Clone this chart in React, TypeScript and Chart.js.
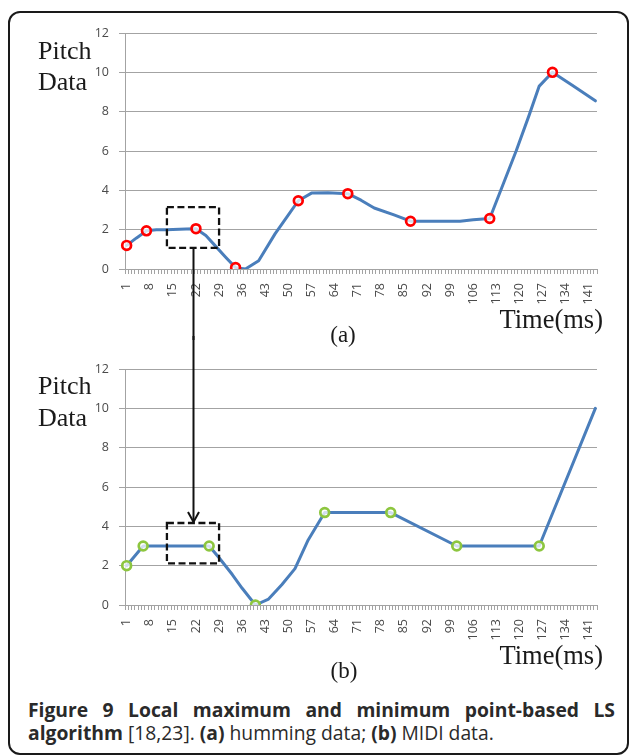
import React, { useEffect, useRef } from "react";
import { Chart, registerables } from "chart.js";

Chart.register(...registerables);

// ---------- data ----------
const timeCategories: number[] = Array.from({ length: 143 }, (_, i) => i + 1);
const labelEvery = 7;
const yMin = 0;
const yMax = 12;
const yStep = 2;

// (a) humming data
const hummingTimes = [1, 4, 7, 10, 13, 19, 22, 25, 28, 31, 34, 37, 41, 46, 50, 53, 57, 62, 68, 72, 76, 82, 87, 95, 102, 106, 111, 115, 119, 123, 126, 130, 136, 143];
const hummingPitch = [1.2, 1.58, 1.94, 1.99, 2.0, 2.04, 2.05, 1.7, 1.15, 0.6, 0.07, 0.0, 0.42, 1.8, 2.75, 3.47, 3.86, 3.88, 3.83, 3.5, 3.1, 2.75, 2.43, 2.43, 2.43, 2.5, 2.57, 4.28, 6.0, 7.85, 9.3, 10.0, 9.34, 8.55];
const hummingExtrema = [1, 7, 22, 34, 53, 68, 87, 111, 130];

// (b) MIDI data
const midiTimes = [1, 6, 26, 29, 33, 36, 40, 44, 48, 52, 56, 61, 81, 101, 126, 143];
const midiPitch = [2.0, 3.0, 3.0, 2.4, 1.55, 0.85, 0.0, 0.3, 1.03, 1.85, 3.31, 4.7, 4.7, 3.0, 3.0, 10.0];
const midiExtrema = [1, 6, 26, 40, 61, 81, 101, 126];

// highlighted region (time range, pitch range)
const boxTimesA = [13.2, 29.0];
const boxPitchA = [1.07, 3.15];
const boxTimesB = [13.2, 29.0];
const boxPitchB = [2.12, 4.17];

const TICK_FONT = "'Open Sans', sans-serif";
const SERIF = "'Liberation Serif', 'Times New Roman', serif";
const GRID = "#a3a3a3";
const TICK_COLOR = "#4a4a4a";
const LINE_BLUE = "#4A7EBB";

const annotPlugin = {
  id: "annot",
  afterDatasetsDraw(chart: any, _args: any, opts: any) {
    const { ctx } = chart;
    const xs = chart.scales.x;
    const ys = chart.scales.y;
    const xl = xs.getPixelForValue(opts.times[0] - 1);
    const xr = xs.getPixelForValue(opts.times[1] - 1);
    const yt = ys.getPixelForValue(opts.pitch[1]);
    const yb = ys.getPixelForValue(opts.pitch[0]);
    ctx.save();
    ctx.strokeStyle = "#111";
    ctx.lineWidth = 2.3;
    ctx.setLineDash([7, 3.5]);
    ctx.strokeRect(xl, yt, xr - xl, yb - yt);
    ctx.setLineDash([]);
    const xc = Math.round((xl + xr) / 2) + 0.5;
    ctx.lineWidth = 2;
    ctx.beginPath();
    if (opts.arrow === "start") {
      ctx.moveTo(xc, yb + 1);
      ctx.lineTo(xc, chart.height + 2);
      ctx.stroke();
    } else {
      ctx.moveTo(xc, -2);
      ctx.lineTo(xc, yt - 1);
      ctx.stroke();
      ctx.beginPath();
      ctx.moveTo(xc - 5.5, yt - 11);
      ctx.lineTo(xc, yt - 1);
      ctx.lineTo(xc + 5.5, yt - 11);
      ctx.stroke();
    }
    ctx.restore();
  },
};

function buildConfig(times: number[], values: number[], extrema: number[], markerColor: string, boxTimes: number[], boxPitch: number[], arrow: string): any {
  const lineData = times.map((t, i) => ({ x: t, y: values[i] }));
  const markerData = extrema.map((t) => ({ x: t, y: values[times.indexOf(t)] }));
  return {
    type: "line",
    data: {
      labels: timeCategories,
      datasets: [
        {
          data: markerData,
          showLine: false,
          order: 0,
          pointRadius: 4.4,
          pointBorderWidth: 2.7,
          pointBorderColor: markerColor,
          pointBackgroundColor: "rgba(255,255,255,0.75)",
        },
        {
          data: lineData,
          order: 1,
          borderColor: LINE_BLUE,
          borderWidth: 3,
          pointRadius: 0,
          tension: 0,
          borderJoinStyle: "round",
          borderCapStyle: "round",
          fill: false,
        },
      ],
    },
    options: {
      animation: false,
      responsive: false,
      devicePixelRatio: 1,
      events: [],
      layout: { padding: { left: 0, right: 32, top: 33, bottom: 0 } },
      plugins: {
        legend: { display: false },
        tooltip: { enabled: false },
        annot: { times: boxTimes, pitch: boxPitch, arrow },
      },
      scales: {
        x: {
          type: "category",
          offset: true,
          grid: {
            display: true,
            drawOnChartArea: false,
            drawTicks: true,
            tickLength: 5,
            color: GRID,
            offset: true,
            lineWidth: 1,
          },
          border: { display: true, color: GRID, width: 1 },
          ticks: {
            autoSkip: false,
            maxRotation: 90,
            minRotation: 90,
            padding: 9,
            color: TICK_COLOR,
            font: { family: TICK_FONT, size: 12.5 },
            callback: (_v: any, i: number) => (i % labelEvery === 0 ? String(timeCategories[i]) : ""),
          },
          afterFit: (s: any) => {
            s.height = 71;
          },
        },
        y: {
          min: yMin,
          max: yMax,
          grid: { color: GRID, tickLength: 6, lineWidth: 1 },
          border: { display: true, color: GRID, width: 1 },
          ticks: {
            stepSize: yStep,
            padding: 10,
            color: TICK_COLOR,
            font: { family: TICK_FONT, size: 12.5 },
          },
          afterFit: (s: any) => {
            s.width = 125;
          },
        },
      },
    },
    plugins: [annotPlugin],
  };
}

function LineChart(props: { top: number; cfg: () => any }) {
  const ref = useRef<HTMLCanvasElement | null>(null);
  useEffect(() => {
    if (!ref.current) return;
    const chart = new Chart(ref.current, props.cfg());
    return () => chart.destroy();
  }, []);
  return (
    <canvas
      ref={ref}
      width={629}
      height={340}
      style={{ position: "absolute", left: 0, top: props.top, width: 629, height: 340 }}
    />
  );
}

function SerifText(props: { left?: number; centerX?: number; right?: number; baseline: number; size: number; text: string }) {
  const { size } = props;
  const top = props.baseline - size * 0.8375;
  const style: any = {
    position: "absolute",
    top,
    fontFamily: SERIF,
    fontSize: size,
    lineHeight: `${size}px`,
    color: "#1a1a1a",
    whiteSpace: "nowrap",
  };
  if (props.centerX !== undefined) {
    style.left = props.centerX - 100;
    style.width = 200;
    style.textAlign = "center";
  } else if (props.right !== undefined) {
    style.right = 629 - props.right;
    style.textAlign = "right";
  } else {
    style.left = props.left;
  }
  return <div style={style}>{props.text}</div>;
}

export default function App() {
  useEffect(() => {
    document.body.style.margin = "0";
    document.body.style.background = "#ffffff";
  }, []);
  const capSize = 19.3;
  const capTop = (baseline: number) => baseline - capSize * 0.888;
  return (
    <div style={{ position: "absolute", left: 0, top: 0, width: 629, height: 755, background: "#fff", overflow: "hidden" }}>
      <div
        style={{
          position: "absolute",
          left: 8,
          top: 11,
          width: 621,
          height: 744,
          border: "2px solid #1a1a1a",
          borderRadius: 12,
          boxSizing: "border-box",
        }}
      />
      <LineChart top={0} cfg={() => buildConfig(hummingTimes, hummingPitch, hummingExtrema, "#ff0000", boxTimesA, boxPitchA, "start")} />
      <LineChart top={336} cfg={() => buildConfig(midiTimes, midiPitch, midiExtrema, "#8DC63F", boxTimesB, boxPitchB, "end")} />

      <SerifText left={38} baseline={60} size={26} text="Pitch" />
      <SerifText left={38} baseline={90.7} size={26} text="Data" />
      <SerifText right={603} baseline={328} size={26.5} text="Time(ms)" />
      <SerifText centerX={343} baseline={342} size={23} text="(a)" />

      <SerifText left={38} baseline={395} size={26} text="Pitch" />
      <SerifText left={38} baseline={426.5} size={26} text="Data" />
      <SerifText right={603} baseline={664} size={26.5} text="Time(ms)" />
      <SerifText centerX={344} baseline={678} size={23} text="(b)" />

      <div
        style={{
          position: "absolute",
          left: 28,
          top: capTop(717),
          width: 587,
          fontFamily: "'Open Sans', sans-serif",
          fontWeight: 700,
          fontSize: capSize,
          lineHeight: `${capSize}px`,
          color: "#2a2a2a",
          textAlign: "justify",
          textAlignLast: "justify" as any,
        }}
      >
        Figure 9 Local maximum and minimum point-based LS
      </div>
      <div
        style={{
          position: "absolute",
          left: 28,
          top: capTop(740),
          fontFamily: "'Open Sans', sans-serif",
          fontSize: capSize,
          lineHeight: `${capSize}px`,
          color: "#2a2a2a",
          whiteSpace: "nowrap",
        }}
      >
        <b>algorithm</b> [18,23]. <b>(a)</b> humming data; <b>(b)</b> MIDI data.
      </div>
    </div>
  );
}
